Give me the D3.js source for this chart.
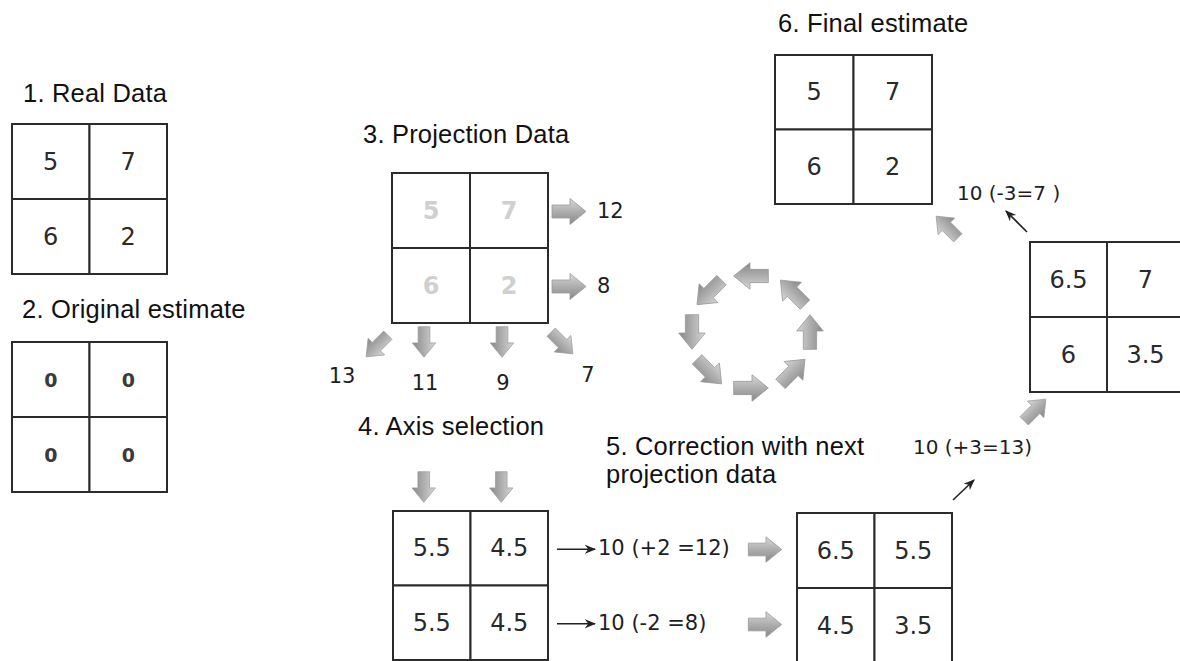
<!DOCTYPE html>
<html><head><meta charset="utf-8">
<script src="https://cdn.jsdelivr.net/npm/d3@7"></script>
<style>
html,body{margin:0;padding:0;background:#fff;}
svg{display:block;}
</style>
</head><body>
<svg id="c" width="1180" height="661"></svg>
<script>
// ---- data ----
const realData = [5, 7, 6, 2];
const originalEstimate = [0, 0, 0, 0];
const projectionCells = [5, 7, 6, 2];
const rowSums = ["12", "8"];
const colSums = ["11", "9"];
const diagSums = ["13", "7"];
const axisSelection = [5.5, 4.5, 5.5, 4.5];
const axisCorrections = ["10 (+2 =12)", "10 (-2 =8)"];
const corrected = [6.5, 5.5, 4.5, 3.5];
const nextCorrected = [6.5, 7, 6, 3.5];
const nextLabels = ["10 (+3=13)", "10 (-3=7 )"];
const finalEstimate = [5, 7, 6, 2];
const cycleAngles = [-90, -135, 180, 135, 90, 45, 0, -45];
const titles = ["1. Real Data", "2. Original estimate", "3. Projection Data", "4. Axis selection",
                "5. Correction with next", "projection data", "6. Final estimate"];

// ---- drawing ----
const svg = d3.select("#c");
const defs = svg.append("defs");
const grad = defs.append("linearGradient").attr("id", "ag").attr("x1", 0).attr("y1", 0).attr("x2", 0).attr("y2", 1);
grad.append("stop").attr("offset", "0%").attr("stop-color", "#d8d8d8");
grad.append("stop").attr("offset", "45%").attr("stop-color", "#b2b2b2");
grad.append("stop").attr("offset", "100%").attr("stop-color", "#888");
const mk = defs.append("marker").attr("id", "ah").attr("viewBox", "0 0 10 10").attr("refX", 9).attr("refY", 5)
  .attr("markerWidth", 7).attr("markerHeight", 7).attr("orient", "auto-start-reverse");
mk.append("path").attr("d", "M0,1 L10,5 L0,9 L3,5 Z").attr("fill", "#222");

const TITLE_FONT = "'Liberation Sans', Arial, sans-serif";
const NUM_FONT = "'DejaVu Sans', sans-serif";

function grid(values, x, y, w, h, opt = {}) {
  const g = svg.append("g");
  const cx = d3.scaleBand().domain([0, 1]).range([x, x + w]);
  const cy = d3.scaleBand().domain([0, 1]).range([y, y + h]);
  const cells = values.map((v, i) => ({v, c: i % 2, r: Math.floor(i / 2)}));
  g.selectAll("rect").data(cells).join("rect")
    .attr("x", d => cx(d.c)).attr("y", d => cy(d.r))
    .attr("width", cx.bandwidth()).attr("height", cy.bandwidth())
    .attr("fill", "#fff").attr("stroke", "#2b2b2b").attr("stroke-width", 2);
  g.selectAll("text").data(cells).join("text")
    .attr("x", d => cx(d.c) + cx.bandwidth() / 2)
    .attr("y", d => cy(d.r) + cy.bandwidth() / 2)
    .attr("text-anchor", "middle").attr("dominant-baseline", "central")
    .attr("font-family", NUM_FONT).attr("font-size", opt.size || 24)
    .attr("font-weight", opt.weight || 400)
    .attr("fill", opt.color || "#2a2a2a")
    .text(d => String(d.v));
  return {cx, cy};
}

function title(t, x, y) {
  svg.append("text").attr("x", x).attr("y", y).attr("font-family", TITLE_FONT)
    .attr("font-size", 25.5).attr("letter-spacing", 0.2).attr("fill", "#111").text(t);
}

function blockArrow(x, y, angle, s = 1) {
  svg.append("path")
    .attr("d", "M-17,-6.5 L1,-6.5 L1,-13 L17,0 L1,13 L1,6.5 L-17,6.5 Z")
    .attr("transform", `translate(${x},${y}) rotate(${angle}) scale(${s})`)
    .attr("fill", "url(#ag)").attr("stroke", "#9a9a9a").attr("stroke-width", 0.8)
    .attr("stroke-linejoin", "round");
}

function label(t, x, y, size = 20, anchor = "start") {
  svg.append("text").attr("x", x).attr("y", y).attr("dominant-baseline", "central")
    .attr("text-anchor", anchor).attr("font-family", NUM_FONT).attr("font-size", size)
    .attr("fill", "#1e1e1e").text(t);
}

function thinArrow(x1, y1, x2, y2) {
  svg.append("line").attr("x1", x1).attr("y1", y1).attr("x2", x2).attr("y2", y2)
    .attr("stroke", "#222").attr("stroke-width", 1.6).attr("marker-end", "url(#ah)");
}

// 1. Real data
title(titles[0], 23, 102);
grid(realData, 12, 124, 155, 150);

// 2. Original estimate
title(titles[1], 22, 318);
grid(originalEstimate, 12, 342, 155, 150, {size: 19, weight: 700, color: "#3a3a3a"});

// 3. Projection data
title(titles[2], 363, 143);
const g3 = grid(projectionCells, 392, 173, 156, 150, {color: "#d0d0d0", weight: 700, size: 24});
rowSums.forEach((t, i) => {
  const yc = g3.cy(i) + g3.cy.bandwidth() / 2 + 1;
  blockArrow(569, yc, 0, 1.0);
  label(t, 597, yc - 1, 21);
});
colSums.forEach((t, i) => {
  const xc = g3.cx(i) + g3.cx.bandwidth() / 2 - 7;
  blockArrow(xc, 342, 90, 0.9);
  label(t, xc + 1, 383, 21, "middle");
});
blockArrow(377, 346, 135, 0.9);
blockArrow(562, 343, 45, 0.9);
label(diagSums[0], 342, 376, 21, "middle");
label(diagSums[1], 588, 375, 21, "middle");

// cycle arrows
cycleAngles.forEach(a => {
  const r = a * Math.PI / 180;
  blockArrow(751 + 59 * Math.cos(r), 332 + 56 * Math.sin(r), a - 90, 1.02);
});

// 4. Axis selection
title(titles[3], 358, 435);
const g4 = grid(axisSelection, 393, 511, 155, 149);
[0, 1].forEach(i => blockArrow(g4.cx(i) + g4.cx.bandwidth() / 2 - 8, 487, 90, 0.9));
axisCorrections.forEach((t, i) => {
  const yc = g4.cy(i) + g4.cy.bandwidth() / 2 + 1;
  thinArrow(557, yc, 595, yc);
  label(t, 598, yc - 1, 21);
});

// 5. Correction
title(titles[4], 606, 455);
title(titles[5], 606, 483);
const g5 = grid(corrected, 797, 513, 155, 150);
[0, 1].forEach(i => blockArrow(765, g5.cy(i) + g5.cy.bandwidth() / 2 - 1, 0, 0.98));
label(nextLabels[0], 913, 447, 20);
thinArrow(953, 500, 974, 480);
blockArrow(1035, 410, -45, 0.9);

// next corrected grid (right)
grid(nextCorrected, 1030, 242, 154, 150);
label(nextLabels[1], 957, 193, 20);
thinArrow(1027, 232, 1006, 211);
blockArrow(947, 227, -135, 0.9);

// 6. Final estimate
title(titles[6], 778, 32);
grid(finalEstimate, 775, 55, 157, 149);
</script>
</body></html>
